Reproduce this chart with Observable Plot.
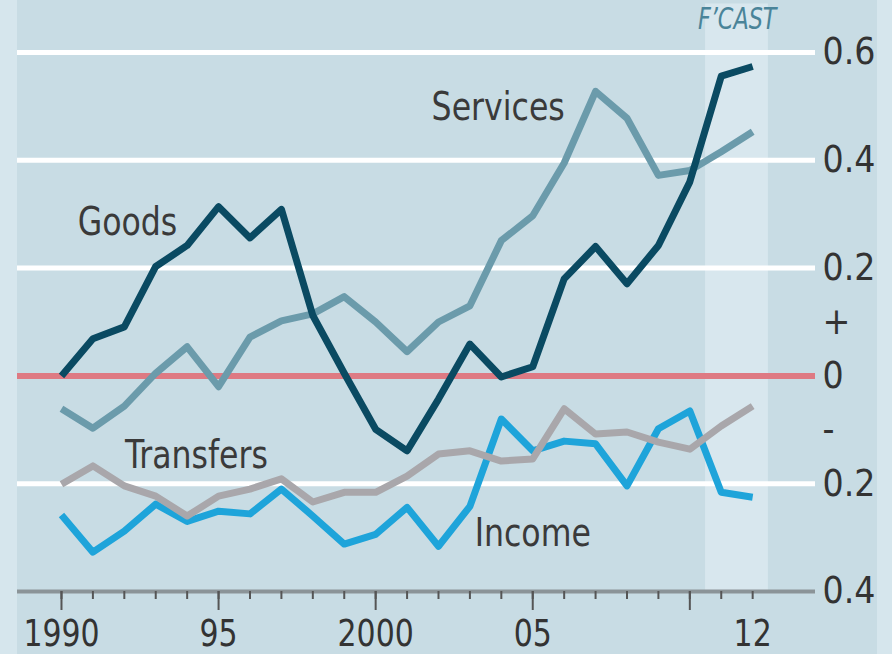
<!DOCTYPE html>
<html>
<head>
<meta charset="utf-8">
<script src="https://cdn.jsdelivr.net/npm/d3@7"></script>
<script src="https://cdn.jsdelivr.net/npm/@observablehq/plot@0.6"></script>
<style>
  html, body { margin: 0; padding: 0; width: 892px; height: 654px; overflow: hidden;
    background: #c8dce4; }
  #chart svg { display: block; }
</style>
</head>
<body>
<div id="chart"></div>
<script>
// ---- data ----
const years = [1990, 1991, 1992, 1993, 1994, 1995, 1996, 1997, 1998, 1999, 2000, 2001,
               2002, 2003, 2004, 2005, 2006, 2007, 2008, 2009, 2010, 2011, 2012];
const goods = [0.0, 0.069, 0.091, 0.203, 0.242, 0.314, 0.256, 0.309, 0.112, 0.005, -0.099, -0.139,
               -0.043, 0.059, -0.002, 0.017, 0.18, 0.24, 0.171, 0.242, 0.36, 0.556, 0.574];
const services = [-0.061, -0.097, -0.056, 0.005, 0.054, -0.02, 0.072, 0.102, 0.115, 0.147, 0.10, 0.045,
                  0.10, 0.13, 0.251, 0.297, 0.395, 0.528, 0.478, 0.372, 0.381, 0.416, 0.453];
const income = [-0.258, -0.327, -0.288, -0.238, -0.27, -0.251, -0.256, -0.21, -0.26, -0.312, -0.294, -0.244,
                -0.316, -0.242, -0.08, -0.139, -0.121, -0.126, -0.204, -0.098, -0.065, -0.216, -0.225];
const transfers = [-0.201, -0.167, -0.204, -0.223, -0.26, -0.223, -0.21, -0.191, -0.234, -0.216, -0.216, -0.186,
                   -0.145, -0.139, -0.158, -0.154, -0.061, -0.108, -0.104, -0.123, -0.136, -0.093, -0.056];

const seriesNames = ["Income", "Transfers", "Services", "Goods"];
const seriesColors = ["#1ea4da", "#a9a7ab", "#6b9bab", "#0a4a62"];

const yTicks = [0.6, 0.4, 0.2, 0.1, 0, -0.1, -0.2, -0.4];
const yTickLabels = ["0.6", "0.4", "0.2", "+", "0", "-", "0.2", "0.4"];
const gridValues = [0.6, 0.4, 0.2, -0.2];
const xMajorTicks = [1990, 1995, 2000, 2005, 2010];
const xLabelTicks = [1990, 1995, 2000, 2005, 2012];
const xTickLabels = ["1990", "95", "2000", "05", "12"];
const forecastStart = 2010.5, forecastEnd = 2012.5;

// annotation labels (data coordinates)
const labelText = ["Goods", "Services", "Transfers", "Income"];
const labelYear = [1992.1, 2003.9, 1994.3, 2005.0];
const labelValue = [0.285, 0.498, -0.148, -0.292];

// ---- build tables ----
const valuesBySeries = {Income: income, Transfers: transfers, Services: services, Goods: goods};
const rows = seriesNames.flatMap(s => years.map((yr, i) => ({series: s, year: yr, value: valuesBySeries[s][i]})));
const labels = labelText.map((t, i) => ({text: t, year: labelYear[i], value: labelValue[i]}));

const font = "'DejaVu Sans Condensed', 'DejaVu Sans', sans-serif";

const chart = Plot.plot({
  width: 892,
  height: 654,
  marginLeft: 17,
  marginRight: 77,
  marginTop: 52,
  marginBottom: 63,
  style: {
    background: "linear-gradient(to right, #d6e6ed 0px, #d6e6ed 17px, #c8dce4 17px, #c8dce4 877px, #d6e6ed 877px)",
    fontFamily: font,
    color: "#333"
  },
  x: {domain: [1988.6, 2014.0], label: null},
  y: {domain: [-0.4, 0.6], label: null},
  color: {domain: seriesNames, range: seriesColors},
  marks: [
    Plot.rect([{x1: forecastStart, x2: forecastEnd}], {
      x1: "x1", x2: "x2", y1: -0.4, y2: 0.69, fill: "#d8e7ee", clip: false
    }),
    Plot.ruleY(gridValues, {stroke: "#ffffff", strokeWidth: 5}),
    Plot.ruleY([0], {stroke: "#de7a83", strokeWidth: 6}),
    Plot.ruleY([-0.4], {stroke: "#8b9498", strokeWidth: 4}),
    Plot.axisX({ticks: years, tickSize: 8, tickFormat: () => "", stroke: "#555", strokeWidth: 2, label: null}),
    Plot.axisX({ticks: xMajorTicks, tickSize: 19, tickFormat: () => "", stroke: "#555", strokeWidth: 2, label: null}),
    Plot.axisX({ticks: xLabelTicks, tickSize: 0, tickPadding: 28, label: null,
      tickFormat: d => xTickLabels[xLabelTicks.indexOf(d)], fontSize: 37, fill: "#333", className: "xlab"}),
    Plot.axisY({ticks: yTicks, anchor: "right", tickSize: 0, tickPadding: 7, label: null,
      tickFormat: d => yTickLabels[yTicks.indexOf(d)], fontSize: 37, fill: "#333"}),
    Plot.line(rows, {x: "year", y: "value", z: "series", stroke: "series",
      strokeWidth: 7, strokeLinejoin: "round", strokeLinecap: "butt"}),
    Plot.text(labels, {x: "year", y: "value", text: "text", fontSize: 39, fill: "#3a3a3a",
      textAnchor: "middle", lineAnchor: "middle", className: "serieslabel"}),
    Plot.text(["F’CAST"], {x: [(forecastStart + forecastEnd) / 2], y: [0.662], text: d => d,
      fontSize: 31, fontStyle: "italic", fill: "#4a8499", textAnchor: "middle", lineAnchor: "middle", clip: false,
      className: "fcast"})
  ]
});
document.getElementById("chart").appendChild(chart);
// slightly condense annotation and tick text (the original uses a narrow typeface),
// scaling each text horizontally about its own centre
chart.querySelectorAll(".serieslabel text, .fcast text, .xlab text").forEach(t => {
  const b = t.getBBox();
  const cx = b.x + b.width / 2;
  const prev = t.getAttribute("transform") || "";
  const s = t.closest(".fcast") ? 0.8 : 0.9;
  t.setAttribute("transform", `${prev} translate(${cx},0) scale(${s},1) translate(${-cx},0)`);
});
</script>
</body>
</html>
